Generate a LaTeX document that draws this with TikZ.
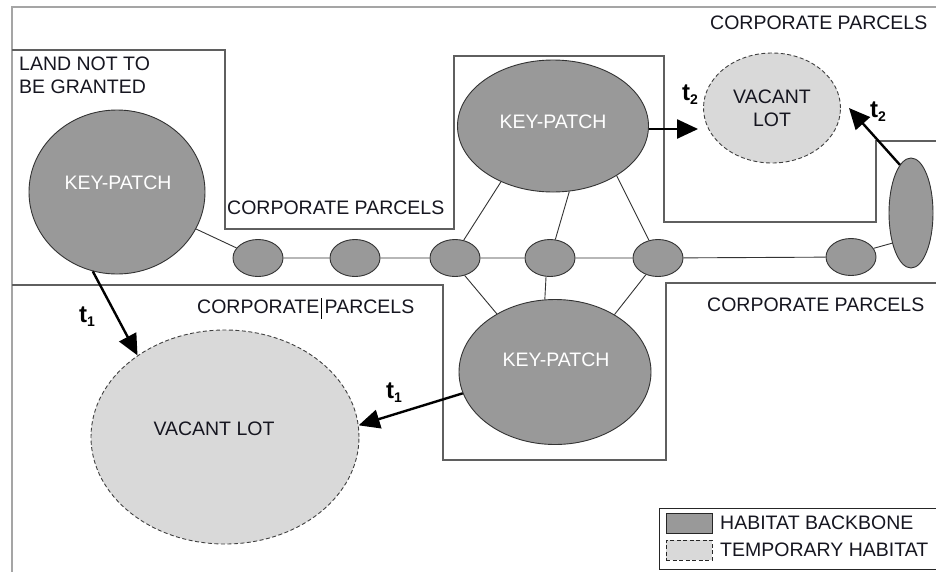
\documentclass[tikz,border=0pt]{standalone}
\usepackage{fontspec}
\setmainfont{Liberation Sans}
\usetikzlibrary{shapes.geometric,arrows.meta}

\definecolor{backbone}{RGB}{153,153,153}
\definecolor{temphab}{RGB}{217,217,217}
\definecolor{inkc}{RGB}{22,22,32}
\definecolor{framec}{RGB}{165,165,165}
\definecolor{parcelc}{RGB}{95,95,95}

% bold time label with a lowered index
\newcommand\tlab[1]{t\raisebox{-0.3ex}{\fontsize{14}{14}\selectfont #1}}

\tikzset{
  patchnode/.style={ellipse, draw=black!80, line width=0.9pt, fill=backbone, inner sep=0pt},
  vacant/.style={ellipse, draw=black!75, dash pattern=on 4pt off 2.5pt, line width=0.9pt, fill=temphab, inner sep=0pt},
  stone/.style={patchnode, minimum width=50pt, minimum height=37pt},
  lbl/.style={inner sep=0pt, text=inkc, font=\fontsize{19.5}{23}\selectfont},
  kplbl/.style={inner sep=0pt, text=white, font=\fontsize{19.5}{23}\selectfont},
  tie/.style={draw=black!80, line width=0.9pt},
  parcel/.style={draw=parcelc, line width=1.3pt},
  outerline/.style={draw=framec, line width=2pt},
  spread/.style={draw=black, line width=2.4pt, -{Triangle[length=21pt,width=19pt]}},
  tlbl/.style={inner sep=0pt, text=black, font=\fontsize{24}{26}\selectfont\bfseries},
}

\begin{document}
\begin{tikzpicture}[x=1pt,y=-1pt]
\useasboundingbox (0,0) rectangle (936,571);
\clip (0,0) rectangle (936,571);
\fill[white] (0,0) rectangle (936,571);

% outer frame
\draw[outerline] (940,7) -- (12,7) -- (12,575);

% parcel boundaries
\draw[parcel] (12,50) -- (225,50) -- (225,229) -- (454,229) -- (454,56)
  -- (664,56) -- (664,222) -- (876,222) -- (876,141) -- (940,141);
\draw[parcel] (12,285) -- (443,285) -- (443,460) -- (666,460) -- (666,283) -- (940,283);

% habitat patches
\node[patchnode, minimum width=176pt, minimum height=164pt] (kpL) at (117,192) {};
\node[patchnode, minimum width=191pt, minimum height=132pt] (kpT) at (553,126) {};
\node[patchnode, minimum width=192pt, minimum height=145pt] (kpB) at (555,372) {};
\node[vacant, minimum width=137pt, minimum height=110pt, align=center,
      text=inkc, font=\fontsize{19.5}{23}\selectfont] (vlT) at (772,108) {VACANT\\LOT};
\node[vacant, minimum width=268pt, minimum height=214pt] (vlB) at (225,437) {};

% stepping stones
\node[stone] (e1) at (258,258) {};
\node[stone] (e2) at (355,258) {};
\node[stone] (e3) at (455,258) {};
\node[stone] (e4) at (550,258) {};
\node[stone] (e5) at (658,258) {};
\node[stone] (e6) at (851,257) {};
\node[patchnode, minimum width=44pt, minimum height=110pt] (tall) at (911,213) {};

% corridor links
\draw[tie] (kpL) -- (e1);
\draw[tie] (e1) -- (e2) (e2) -- (e3) (e3) -- (e4) (e4) -- (e5) (e5) -- (e6);
\draw[tie] (kpT.-133) -- (e3.64);
\draw[tie] (kpT.-76) -- (e4.74);
\draw[tie] (kpT.-38) -- (e5.117);
\draw[tie] (kpB.135) -- (e3.-61);
\draw[tie] (kpB.98) -- (e4.-102);
\draw[tie] (kpB.44) -- (e5.-126);
\draw[tie] (e6.21) -- (tall.-122);

% dispersal arrows
\draw[spread] (kpL.-107) -- (vlB.137);
\draw[spread] (kpB.-167) -- (vlB.5);
\coordinate (kpTout) at ([yshift=-3pt]kpT.east);
\coordinate (vlTleft) at ([xshift=-5pt]kpTout -| vlT.west);
\draw[spread] (kpTout) -- (vlTleft);
\coordinate (vlTin) at ([xshift=8pt]vlT.east);
\draw[spread] (tall.103) -- (vlTin);

% patch labels
\node[kplbl] (kpLt) at (118,183) {KEY-PATCH};
\node[kplbl] (kpTt) at (553,122) {KEY-PATCH};
\node[kplbl] (kpBt) at (556,360) {KEY-PATCH};
\node[lbl] (vlBt) at (214,429) {VACANT LOT};

% area labels
\node[lbl, anchor=west, align=left] (nogrant) at (19,75.5) {LAND NOT TO\\BE GRANTED};
\node[lbl, anchor=west] (cpA) at (227,208) {CORPORATE PARCELS};
\node[lbl, anchor=west] (cpB) at (710,23) {CORPORATE PARCELS};
\node[lbl, anchor=west] (cpC) at (197,307) {CORPORATE PARCELS};
\draw[black, line width=0.8pt] (321,298) -- (321,319);
\node[lbl, anchor=west] (cpD) at (707,305) {CORPORATE PARCELS};

% time labels
\node[tlbl] (tA) at (87,317) {\tlab{1}};
\node[tlbl] (tB) at (394,393) {\tlab{1}};
\node[tlbl] (tC) at (690,95) {\tlab{2}};
\node[tlbl] (tD) at (878,112) {\tlab{2}};

% legend
\draw[black!85, line width=1pt] (659,508) rectangle (950,569);
\node[rectangle, draw=black!85, line width=1pt, fill=backbone, minimum width=46pt,
      minimum height=20pt, inner sep=0pt] (swA) at (689,523) {};
\node[rectangle, draw=black!85, line width=1pt, dash pattern=on 4pt off 2.5pt, fill=temphab,
      minimum width=46pt, minimum height=20pt, inner sep=0pt] (swB) at (689,550) {};
\node[lbl, anchor=west] (lgA) at (720,523) {HABITAT BACKBONE};
\node[lbl, anchor=west] (lgB) at (720,550) {TEMPORARY HABITAT};
\end{tikzpicture}
\end{document}
